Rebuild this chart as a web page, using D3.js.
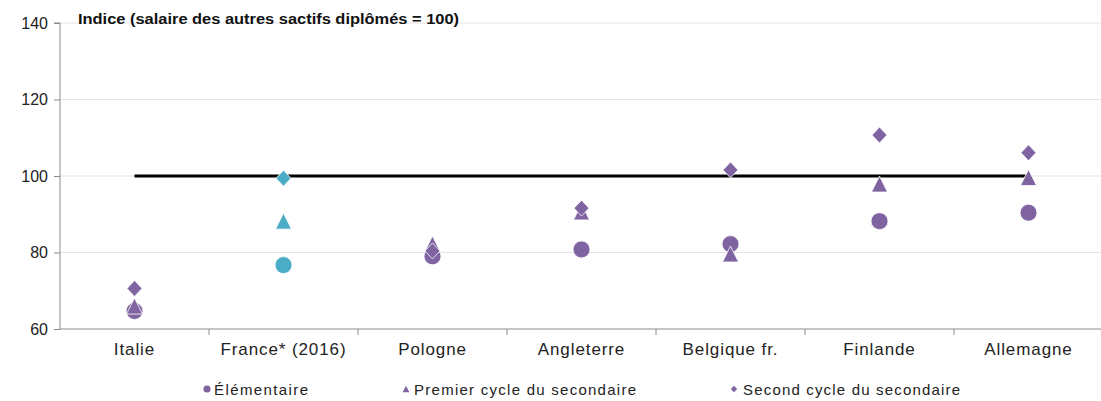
<!DOCTYPE html>
<html><head><meta charset="utf-8">
<script src="https://cdn.jsdelivr.net/npm/d3@7"></script>
<style>body{margin:0;background:#fff;} svg{display:block;font-family:"Liberation Sans",Arial,sans-serif;}</style>
</head><body>
<svg id="c" width="1101" height="401"></svg>
<script>
const categories = ["Italie","France* (2016)","Pologne","Angleterre","Belgique fr.","Finlande","Allemagne"];
const elementaire = [64.7, 76.7, 79.0, 80.8, 82.2, 88.2, 90.4];
const premierCycle = [66.0, 88.2, 82.2, 90.6, 79.6, 97.9, 99.6];
const secondCycle = [70.6, 99.4, 80.4, 91.6, 101.6, 110.7, 106.1];
const refValue = [100, 100, 100, 100, 100, 100, 100];
const yTicks = [60, 80, 100, 120, 140];
const seriesNames = ["Élémentaire","Premier cycle du secondaire","Second cycle du secondaire"];
const title = "Indice (salaire des autres sactifs diplômés = 100)";

const purple = "#8064a2", teal = "#4bacc6";
const svg = d3.select("#c");
const x = d3.scaleBand().domain(categories).range([60, 1103]);
const y = d3.scaleLinear().domain([60, 140]).range([329, 23]);

// gridlines
svg.append("g").selectAll("line").data(yTicks.slice(1)).join("line")
  .attr("x1", 60).attr("x2", 1103).attr("y1", d => y(d)).attr("y2", d => y(d))
  .attr("stroke", "#e3e3e3").attr("stroke-width", 1.2);

// y axis
const ya = svg.append("g").attr("transform", "translate(60,0)")
  .call(d3.axisLeft(y).tickValues(yTicks).tickSize(6).tickPadding(6));
ya.select(".domain").attr("stroke", "#8c8c8c").attr("d", `M-6,${y(140)}H0V${y(60)}`);
ya.selectAll(".tick line").attr("stroke", "#8c8c8c");
ya.selectAll(".tick text").attr("font-size", 16).attr("fill", "#222").attr("font-family", "Liberation Sans, Arial");

// x axis
const xa = svg.append("g").attr("transform", `translate(0,${y(60)})`)
  .call(d3.axisBottom(x).tickSize(0).tickPadding(14));
xa.select(".domain").attr("stroke", "#8c8c8c").attr("d", `M60,0H1103`);
xa.selectAll(".tick text").attr("font-size", 17).attr("fill", "#222").attr("letter-spacing", 0.9).attr("font-family", "Liberation Sans, Arial");
xa.append("g").selectAll("line").data(categories.slice(1)).join("line")
  .attr("x1", d => x(d)).attr("x2", d => x(d)).attr("y1", 0).attr("y2", 6).attr("stroke", "#8c8c8c");

// reference line at 100
const line = d3.line().x((d, i) => x(categories[i]) + x.bandwidth() / 2).y(d => y(d));
svg.append("path").attr("d", line(refValue)).attr("fill", "none").attr("stroke", "#000").attr("stroke-width", 3);

const colorOf = i => categories[i].startsWith("France") ? teal : purple;
const cx = i => x(categories[i]) + x.bandwidth() / 2;

function shapePath(type, s) {
  // s = scale factor, base shapes sized for plot markers
  if (type === "circle") { const r = 8.5 * s; return `M${r},0A${r},${r} 0 1,1 ${-r},0A${r},${r} 0 1,1 ${r},0Z`; }
  if (type === "triangle") { const w = 8 * s, h = 8 * s; return `M0,${-h}L${w},${h}L${-w},${h}Z`; }
  const w = 7.5 * s, h = 8 * s; return `M0,${-h}L${w},0L0,${h}L${-w},0Z`;
}
function drawSeries(vals, type) {
  svg.append("g").selectAll("path").data(vals).join("path")
    .attr("d", shapePath(type, 1))
    .attr("transform", (d, i) => `translate(${cx(i)},${y(d)})`)
    .attr("fill", (d, i) => colorOf(i)).attr("stroke", "#fff").attr("stroke-width", 0.8);
}
drawSeries(elementaire, "circle");
drawSeries(premierCycle, "triangle");
drawSeries(secondCycle, "diamond");

// title
svg.append("text").attr("x", 78).attr("y", 24).attr("font-size", 14).attr("font-weight", "bold")
  .attr("fill", "#111").attr("textLength", 381).attr("lengthAdjust", "spacingAndGlyphs").text(title);

// legend
const legSym = [207, 406, 734];
const legTxt = [214, 414, 743];
const legLen = [94, 222, 217];
const legTypes = [["circle", 0.42], ["triangle", 0.42], ["diamond", 0.42]];
const lg = svg.append("g");
seriesNames.forEach((n, i) => {
  const [t, s] = legTypes[i];
  lg.append("path").attr("d", shapePath(t, s)).attr("fill", purple)
    .attr("transform", `translate(${legSym[i]},389)`);
  lg.append("text").attr("x", legTxt[i]).attr("y", 394.5).attr("font-size", 15)
    .attr("textLength", legLen[i]).attr("lengthAdjust", "spacing")
    .attr("fill", "#222").text(n);
});
</script>
</body></html>
